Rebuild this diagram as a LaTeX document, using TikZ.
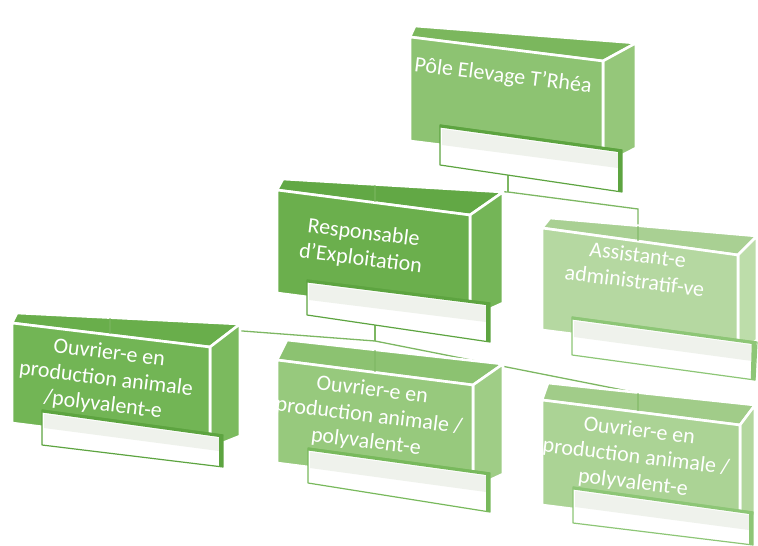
\documentclass[tikz,border=0pt]{standalone}
\usepackage{fontspec}
\usepackage{graphicx}
\setmainfont{Carlito}
\definecolor{aTop}{HTML}{7BB75D}\definecolor{aFront}{HTML}{8DC372}\definecolor{aRight}{HTML}{95C77A}
\definecolor{bTop}{HTML}{62A845}\definecolor{bFront}{HTML}{6BAF4D}\definecolor{bRight}{HTML}{74B557}
\definecolor{cTop}{HTML}{A9D093}\definecolor{cFront}{HTML}{B5D8A1}\definecolor{cRight}{HTML}{BDDDAA}
\definecolor{dTop}{HTML}{69AE4B}\definecolor{dFront}{HTML}{72B555}\definecolor{dRight}{HTML}{7BBA5E}
\definecolor{eTop}{HTML}{8CC271}\definecolor{eFront}{HTML}{97C97D}\definecolor{eRight}{HTML}{9FCD86}
\definecolor{fTop}{HTML}{A1CC89}\definecolor{fFront}{HTML}{ABD395}\definecolor{fRight}{HTML}{B3D79E}
\definecolor{lblA}{HTML}{5DA440}\definecolor{lblC}{HTML}{8DC676}\definecolor{lblE}{HTML}{78B95C}
\definecolor{lineg}{HTML}{7DB762}
\definecolor{band}{HTML}{EFF2EC}
\newcommand\slanttext[1]{\rotatebox{-7}{\begin{tabular}{@{}c@{}}#1\end{tabular}}}
\tikzset{
  face/.style={fill=#1, draw=white, line width=2.6pt, line join=round},
  lblbox/.style={fill=white, draw=#1, line width=1.2pt, line join=round},
  lbltop/.style={draw=#1, line width=3pt},
  lblside/.style={draw=#1, line width=4.5pt},
  conn/.style={draw=lineg, line width=1.3pt},
  faint/.style={draw=lineg, line width=1.1pt, opacity=.55},
  txt/.style={text=white, inner sep=0pt,
    font=\fontsize{22}{26}\selectfont},
}
\begin{document}
\begin{tikzpicture}[x=1pt,y=-1pt]
\useasboundingbox (0,0) rectangle (758,546);
% ---------- connector coordinates
\coordinate (s1) at (508,175);
\coordinate (J1) at (508,192);
\coordinate (top2) at (375,186);
\coordinate (top3) at (638,209);
\coordinate (in3) at (638,226);
\coordinate (s2) at (375,325);
\coordinate (J2) at (375,341);
\coordinate (top4) at (110,321);
\coordinate (top6) at (638,393);
% ---------- connectors (behind the boxes)
\draw[conn] (s1) -- (J1);
\draw[conn] (J1) -- (top2);
\draw[conn] (J1) -- (top3) -- (in3);
\draw[conn] (s2) -- (J2);
\draw[conn] (J2) -- (top4);
\draw[conn] (J2) -- (top6);

% ---------- Box 1 : Pole Elevage
\path[face=aTop]   (415,26) -- (636,43) -- (603,61) -- (410,37) -- cycle;
\path[face=aRight] (603,61) -- (636,43) -- (636,148) -- (603,165) -- cycle;
\path[face=aFront] (410,37) -- (603,61) -- (603,165) -- (410,141) -- cycle;
\node[txt] (t1) at (503,77) {\slanttext{Pôle Elevage T'Rhéa}};
\path[lblbox=lblA] (440,125) -- (622,150) -- (622,192) -- (440,165) -- cycle;
\fill[band] (442,129) -- (618,153) -- (618,168) -- (442,145) -- cycle;
\draw[lbltop=lblA] (440,126) -- (622,151);
\draw[lblside=lblA] (620,151) -- (620,192);

% ---------- Box 2 : Responsable
\path[face=bTop]   (283,179) -- (503,192) -- (470,215) -- (277,190) -- cycle;
\path[face=bRight] (470,215) -- (503,192) -- (503,303) -- (470,318) -- cycle;
\path[face=bFront] (277,190) -- (470,215) -- (470,318) -- (277,293) -- cycle;
\node[txt] (t2) at (362,247) {\slanttext{Responsable\\d'Exploitation}};
\path[lblbox=lblA] (307,280) -- (490,303) -- (490,342) -- (307,315) -- cycle;
\fill[band] (309,284) -- (486,306) -- (486,322) -- (309,300) -- cycle;
\draw[lbltop=lblA] (307,281) -- (490,304);
\draw[lblside=lblA] (488,304) -- (488,342);

% ---------- Box 3 : Assistant
\path[face=cTop]   (550,218) -- (757,236) -- (738,255) -- (542,228) -- cycle;
\path[face=cRight] (738,255) -- (757,236) -- (757,340) -- (738,355) -- cycle;
\path[face=cFront] (542,228) -- (738,255) -- (738,355) -- (542,330) -- cycle;
\node[txt] (t3) at (636,270) {\slanttext{Assistant-e\\administratif-ve}};
\path[lblbox=lblC] (572,317) -- (757,342) -- (755,380) -- (572,355) -- cycle;
\fill[band] (574,321) -- (752,345) -- (752,361) -- (574,337) -- cycle;
\draw[lbltop=lblC] (572,318) -- (756,343);
\draw[lblside=lblC] (754,343) -- (753,380);

% ---------- Box 4 : Ouvrier left
\path[face=dTop]   (17,313) -- (240,324) -- (210,347) -- (12,323) -- cycle;
\path[face=dRight] (210,347) -- (240,324) -- (240,436) -- (210,448) -- cycle;
\path[face=dFront] (12,323) -- (210,347) -- (210,448) -- (12,423) -- cycle;
\node[txt] (t4) at (106,380) {\slanttext{Ouvrier-e en\\production animale\\/polyvalent-e}};
\path[lblbox=lblA] (42,410) -- (223,435) -- (223,467) -- (42,445) -- cycle;
\fill[band] (44,414) -- (219,438) -- (219,451) -- (44,428) -- cycle;
\draw[lbltop=lblA] (42,411) -- (223,436);
\draw[lblside=lblA] (221,436) -- (221,467);

% ---------- Box 5 : Ouvrier middle
\path[face=eTop]   (287,340) -- (503,364) -- (473,385) -- (277,360) -- cycle;
\path[face=eRight] (473,385) -- (503,364) -- (503,474) -- (473,488) -- cycle;
\path[face=eFront] (277,360) -- (473,385) -- (473,488) -- (277,463) -- cycle;
\node[txt] (t5) at (369,417) {\slanttext{Ouvrier-e en\\production animale /\\polyvalent-e}};
\path[lblbox=lblE] (308,448) -- (490,473) -- (490,512) -- (308,483) -- cycle;
\fill[band] (310,452) -- (486,476) -- (486,492) -- (310,468) -- cycle;
\draw[lbltop=lblE] (308,449) -- (490,474);
\draw[lblside=lblE] (488,474) -- (488,512);

% ---------- Box 6 : Ouvrier right
\path[face=fTop]   (548,383) -- (755,405) -- (740,425) -- (542,400) -- cycle;
\path[face=fRight] (740,425) -- (755,405) -- (755,515) -- (740,530) -- cycle;
\path[face=fFront] (542,400) -- (740,425) -- (740,530) -- (542,505) -- cycle;
\node[txt] (t6) at (636,458) {\slanttext{Ouvrier-e en\\production animale /\\polyvalent-e}};
\path[lblbox=lblC] (573,487) -- (753,512) -- (753,545) -- (573,523) -- cycle;
\fill[band] (575,491) -- (749,515) -- (749,530) -- (575,507) -- cycle;
\draw[lbltop=lblC] (573,488) -- (753,513);
\draw[lblside=lblC] (751,513) -- (751,545);

% ---------- connectors seen through the top faces
\draw[faint] (375,185) -- (375,202);
\draw[faint] (638,226) -- (638,241);
\draw[faint] (110,318) -- (110,334);
\draw[faint] (375,350) -- (375,372);
\draw[faint] (638,393) -- (638,411);
\end{tikzpicture}
\end{document}
